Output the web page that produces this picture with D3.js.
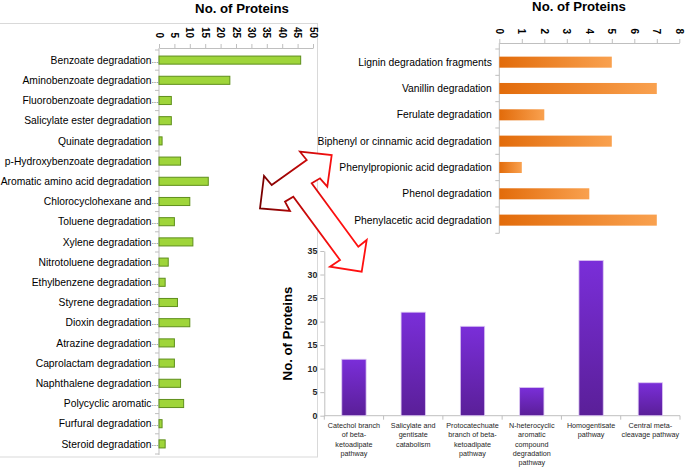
<!DOCTYPE html>
<html>
<head>
<meta charset="utf-8">
<script src="https://cdn.jsdelivr.net/npm/d3@7"></script>
<style>
  html, body { margin: 0; padding: 0; background: #ffffff; }
  svg { display: block; font-family: "Liberation Sans", Arial, sans-serif; }
</style>
</head>
<body>
<svg id="chart" width="685" height="467"></svg>
<script>
// ---------------- DATA ----------------
const leftCats = [
  "Benzoate degradation…", "Aminobenzoate degradation…", "Fluorobenzoate degradation…",
  "Salicylate ester degradation", "Quinate degradation", "p-Hydroxybenzoate degradation",
  "Aromatic amino acid degradation", "Chlorocyclohexane and…", "Toluene degradation…",
  "Xylene degradation…", "Nitrotoluene degradation…", "Ethylbenzene degradation…",
  "Styrene degradation…", "Dioxin degradation…", "Atrazine degradation…",
  "Caprolactam degradation…", "Naphthalene degradation…", "Polycyclic aromatic…",
  "Furfural degradation…", "Steroid degradation…"
];
const leftVals = [46, 23, 4, 4, 1, 7, 16, 10, 5, 11, 3, 2, 6, 10, 5, 5, 7, 8, 1, 2];
const leftTicks = [0, 5, 10, 15, 20, 25, 30, 35, 40, 45, 50];

const ligninCats = [
  "Lignin degradation fragments", "Vanillin degradation", "Ferulate degradation",
  "Biphenyl or cinnamic acid degradation", "Phenylpropionic acid degradation",
  "Phenol degradation", "Phenylacetic acid degradation"
];
const ligninVals = [5, 7, 2, 5, 1, 4, 7];
const ligninTicks = [0, 1, 2, 3, 4, 5, 6, 7, 8];

const centralCats = [
  "Catechol branch of beta-ketoadipate pathway",
  "Salicylate and gentisate catabolism",
  "Protocatechuate branch of beta-ketoadipate pathway",
  "N-heterocyclic aromatic compound degradation pathway",
  "Homogentisate pathway",
  "Central meta-cleavage pathway"
];
const centralLines = [
  ["Catechol branch", "of beta-", "ketoadipate", "pathway"],
  ["Salicylate and", "gentisate", "catabolism"],
  ["Protocatechuate", "branch of beta-", "ketoadipate", "pathway"],
  ["N-heterocyclic", "aromatic", "compound", "degradation", "pathway"],
  ["Homogentisate", "pathway"],
  ["Central meta-", "cleavage pathway"]
];
const centralVals = [12, 22, 19, 6, 33, 7];
const centralTicks = [0, 5, 10, 15, 20, 25, 30, 35];

const titleText = "No. of Proteins";

// decorative three-way arrow outline (annotation)
const arrowPts = [
  [264, 176], [260, 208.5], [290, 211], [285, 201.7], [293.3, 196.7],
  [340, 260], [330, 266.7], [361.7, 271.7], [366.7, 240], [358.3, 246.7],
  [311.7, 183.3], [320, 178.3], [327.3, 186.7], [331.7, 155], [300, 151.7],
  [306.7, 160], [271.7, 185]
];

// ---------------- FONT PICK (condensed if available) ----------------
const cnv = document.createElement("canvas").getContext("2d");
function w(font, s) { cnv.font = font; return cnv.measureText(s).width; }
const probe = "Aromatic amino acid degradation";
const narrowAvail = w("100px 'Liberation Sans Narrow', monospace", probe) !== w("100px monospace", probe);
const labelFamily = narrowAvail ? "'Liberation Sans Narrow', 'Liberation Sans', Arial, sans-serif"
                                : "'Liberation Sans', Arial, sans-serif";
const labelSize = Math.min(12.5, 151 / (w("100px " + labelFamily, probe) / 100));

// ---------------- DRAW ----------------
const svg = d3.select("#chart");
const defs = svg.append("defs");
const axisColor = "#bfbfbf";

const gO = defs.append("linearGradient").attr("id", "gOrange")
  .attr("x1", "0").attr("y1", "0").attr("x2", "1").attr("y2", "0");
gO.append("stop").attr("offset", "0").attr("stop-color", "#e26b0a");
gO.append("stop").attr("offset", "1").attr("stop-color", "#f9a14f");

const gP = defs.append("linearGradient").attr("id", "gPurple")
  .attr("x1", "0").attr("y1", "0").attr("x2", "0").attr("y2", "1");
gP.append("stop").attr("offset", "0").attr("stop-color", "#7a2ed9");
gP.append("stop").attr("offset", "1").attr("stop-color", "#5a1f98");

const gA = defs.append("linearGradient").attr("id", "gArrow")
  .attr("gradientUnits", "userSpaceOnUse")
  .attr("x1", 262).attr("y1", 200).attr("x2", 335).attr("y2", 200);
gA.append("stop").attr("offset", "0").attr("stop-color", "#7a0000");
gA.append("stop").attr("offset", "1").attr("stop-color", "#ff1010");

// ===== LEFT CHART =====
svg.append("rect").attr("x", -1).attr("y", 23.5).attr("width", 318.5).attr("height", 433.5)
  .attr("fill", "none").attr("stroke", "#d9d9d9").attr("stroke-width", 1);

const xL = d3.scaleLinear().domain([0, 50]).range([159, 313]);
const yL = d3.scaleBand().domain(leftCats).range([50, 454]).paddingInner(0.6).paddingOuter(0.3);

const gL = svg.append("g");
const axL = gL.append("g").attr("transform", "translate(0,48)")
  .call(d3.axisTop(xL).tickValues(leftTicks).tickSize(4).tickSizeOuter(0).tickFormat(""));
axL.selectAll("path,line").attr("stroke", axisColor);
gL.selectAll("text.tl").data(leftTicks).join("text").attr("class", "tl")
  .attr("transform", d => `translate(${xL(d)},38) rotate(90)`)
  .attr("text-anchor", "end").attr("dy", "0.35em")
  .attr("font-size", 10).attr("font-weight", "bold").attr("fill", "#000")
  .text(d => d);

const gapL = (yL.step() - yL.bandwidth()) / 2;
gL.append("line").attr("x1", xL(0)).attr("x2", xL(0)).attr("y1", 48).attr("y2", yL.range()[1] + 1)
  .attr("stroke", axisColor);
const boundsL = leftCats.map(c => yL(c) - gapL).concat([yL(leftCats[leftCats.length - 1]) + yL.bandwidth() + gapL]);
gL.selectAll("line.bt").data(boundsL).join("line").attr("class", "bt")
  .attr("x1", xL(0) - 4).attr("x2", xL(0)).attr("y1", d => d).attr("y2", d => d)
  .attr("stroke", axisColor);

gL.selectAll("rect.bar").data(leftCats).join("rect").attr("class", "bar")
  .attr("x", xL(0)).attr("y", d => yL(d))
  .attr("width", (d, i) => xL(leftVals[i]) - xL(0)).attr("height", yL.bandwidth())
  .attr("fill", "#9fd53a").attr("stroke", "#5f8f1c").attr("stroke-width", 1);

gL.selectAll("text.cl").data(leftCats).join("text").attr("class", "cl")
  .attr("x", xL(0) - 7.5).attr("y", d => yL(d) + yL.bandwidth() / 2).attr("dy", "0.35em")
  .attr("text-anchor", "end").attr("font-size", labelSize).attr("font-family", labelFamily).attr("fill", "#000")
  .text(d => d.replace("…", ""));
gL.selectAll("text.el").data(leftCats.filter(d => d.endsWith("…"))).join("text").attr("class", "el")
  .attr("x", xL(0) - 7.5).attr("y", d => yL(d) + yL.bandwidth() / 2).attr("dy", "0.35em")
  .attr("font-size", 7).attr("fill", "#000").text("…");

svg.append("text").attr("x", 242).attr("y", 13).attr("text-anchor", "middle")
  .attr("font-size", 13.2).attr("font-weight", "bold").text(titleText);

// ===== TOP RIGHT (orange) =====
const xR = d3.scaleLinear().domain([0, 8]).range([499.3, 679.3]);
const yR = d3.scaleBand().domain(ligninCats).range([49, 233.3]).paddingInner(0.58).paddingOuter(0.29);
const gR = svg.append("g");
const axR = gR.append("g").attr("transform", "translate(0,43)")
  .call(d3.axisTop(xR).tickValues(ligninTicks).tickSize(4).tickSizeOuter(0).tickFormat(""));
axR.selectAll("path,line").attr("stroke", axisColor);
gR.selectAll("text.tl").data(ligninTicks).join("text").attr("class", "tl")
  .attr("transform", d => `translate(${xR(d)},34) rotate(90)`)
  .attr("text-anchor", "end").attr("dy", "0.35em")
  .attr("font-size", 10).attr("font-weight", "bold").attr("fill", "#000")
  .text(d => d);
const gapR = (yR.step() - yR.bandwidth()) / 2;
gR.append("line").attr("x1", xR(0)).attr("x2", xR(0)).attr("y1", 43).attr("y2", yR.range()[1])
  .attr("stroke", axisColor);
const boundsR = ligninCats.map(c => yR(c) - gapR).concat([yR(ligninCats[ligninCats.length - 1]) + yR.bandwidth() + gapR]);
gR.selectAll("line.bt").data(boundsR).join("line").attr("class", "bt")
  .attr("x1", xR(0) - 4).attr("x2", xR(0)).attr("y1", d => d).attr("y2", d => d)
  .attr("stroke", axisColor);
gR.selectAll("rect.bar").data(ligninCats).join("rect").attr("class", "bar")
  .attr("x", xR(0)).attr("y", d => yR(d))
  .attr("width", (d, i) => xR(ligninVals[i]) - xR(0)).attr("height", yR.bandwidth())
  .attr("fill", "url(#gOrange)");
gR.selectAll("text.cl").data(ligninCats).join("text").attr("class", "cl")
  .attr("x", xR(0) - 7.5).attr("y", d => yR(d) + yR.bandwidth() / 2).attr("dy", "0.35em")
  .attr("text-anchor", "end").attr("font-size", labelSize).attr("font-family", labelFamily).attr("fill", "#000")
  .text(d => d);
svg.append("text").attr("x", 579).attr("y", 11).attr("text-anchor", "middle")
  .attr("font-size", 13.2).attr("font-weight", "bold").text(titleText);

// ===== BOTTOM (purple) =====
const xB = d3.scaleBand().domain(centralCats).range([324.3, 680]).paddingInner(0.59).paddingOuter(0.295);
const yB = d3.scaleLinear().domain([0, 35]).range([415.7, 251]);
const gB = svg.append("g");
const axBy = gB.append("g").attr("transform", `translate(${324.3},0)`)
  .call(d3.axisLeft(yB).tickValues(centralTicks).tickSize(4).tickSizeOuter(0).tickPadding(3));
axBy.selectAll("path,line").attr("stroke", axisColor);
axBy.selectAll("text").attr("font-size", 8.8).attr("font-weight", "bold").attr("fill", "#262626")
  .attr("font-family", "'Liberation Sans', Arial, sans-serif");
gB.append("line").attr("x1", 324.3).attr("x2", 680).attr("y1", yB(0)).attr("y2", yB(0))
  .attr("stroke", axisColor);
const gapB = (xB.step() - xB.bandwidth()) / 2;
const boundsB = centralCats.map(c => xB(c) - gapB).concat([680]);
gB.selectAll("line.bt").data(boundsB).join("line").attr("class", "bt")
  .attr("x1", d => d).attr("x2", d => d).attr("y1", yB(0)).attr("y2", yB(0) + 4)
  .attr("stroke", axisColor);
gB.selectAll("rect.bar").data(centralCats).join("rect").attr("class", "bar")
  .attr("x", d => xB(d)).attr("y", (d, i) => yB(centralVals[i]))
  .attr("width", xB.bandwidth()).attr("height", (d, i) => yB(0) - yB(centralVals[i]))
  .attr("fill", "url(#gPurple)").attr("stroke", "#dcc8f2").attr("stroke-width", 0.8);
const lab = gB.selectAll("text.xl").data(centralCats).join("text").attr("class", "xl")
  .attr("text-anchor", "middle").attr("font-size", 7.2).attr("fill", "#262626");
lab.each(function (d, i) {
  d3.select(this).selectAll("tspan").data(centralLines[i]).join("tspan")
    .attr("x", xB(d) + xB.bandwidth() / 2)
    .attr("y", (t, j) => 428 + j * 9.3)
    .text(t => t);
});
svg.append("text").attr("transform", "translate(292,333.5) rotate(-90)")
  .attr("text-anchor", "middle").attr("font-size", 13.2).attr("font-weight", "bold")
  .text(titleText);

// ===== ARROW annotation =====
svg.append("path").attr("d", d3.line()(arrowPts) + "Z")
  .attr("fill", "#ffffff").attr("stroke", "url(#gArrow)").attr("stroke-width", 1.8)
  .attr("stroke-linejoin", "miter");
</script>
</body>
</html>
